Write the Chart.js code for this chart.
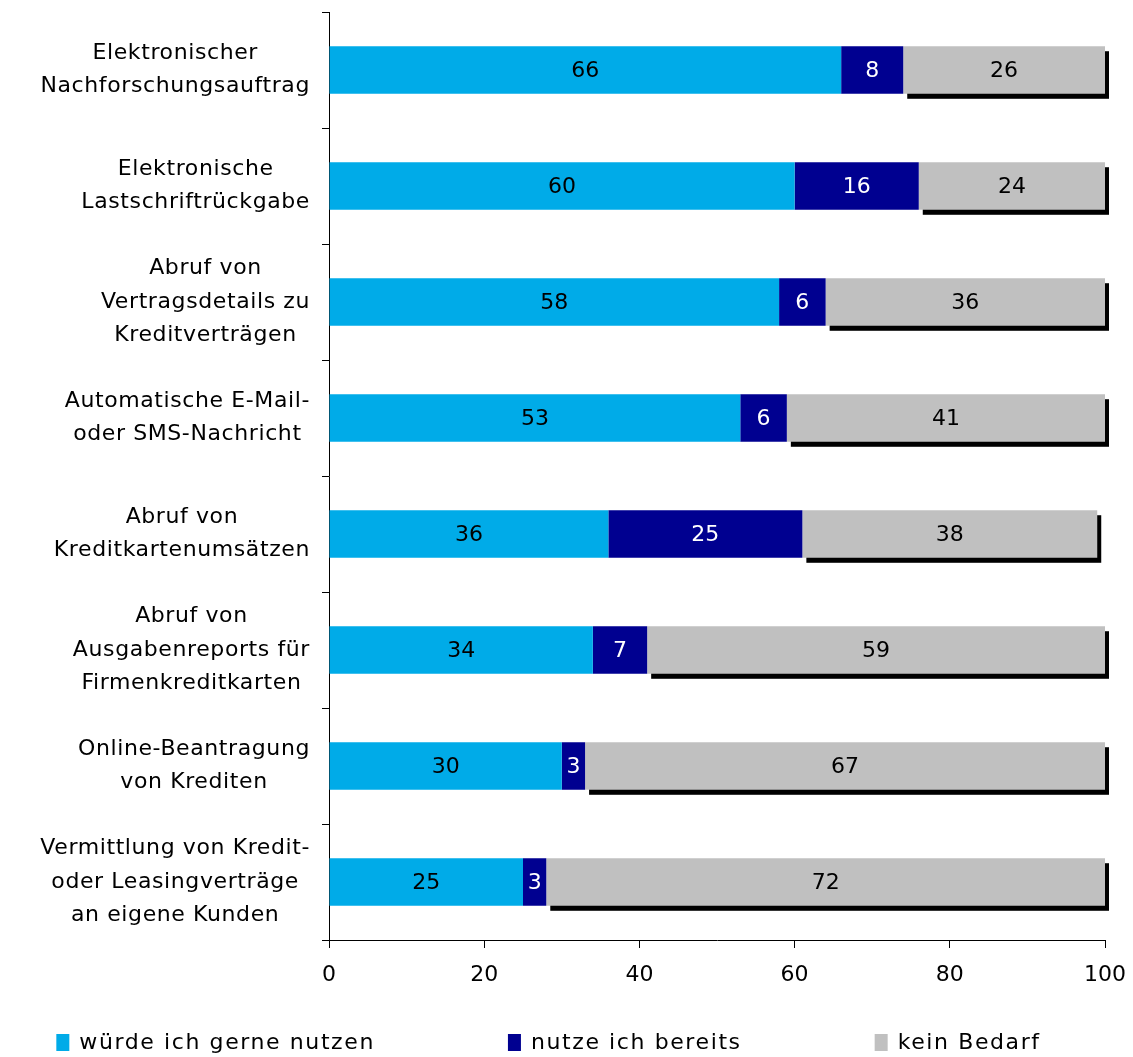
<!DOCTYPE html>
<html>
<head>
<meta charset="utf-8">
<script src="https://cdn.jsdelivr.net/npm/chart.js@4.4.1/dist/chart.umd.min.js"></script>
<style>
  html, body { margin: 0; padding: 0; background: #fff; }
  #wrap { width: 1133px; height: 1057px; }
</style>
</head>
<body>
<div id="wrap"><canvas id="chart"></canvas></div>
<script>
// categories (multi-line labels) and series values
const categories = [
    ['Elektronischer', 'Nachforschungsauftrag'],
    ['Elektronische', 'Lastschriftrückgabe'],
    ['Abruf von', 'Vertragsdetails zu', 'Kreditverträgen'],
    ['Automatische E-Mail-', 'oder SMS-Nachricht'],
    ['Abruf von', 'Kreditkartenumsätzen'],
    ['Abruf von', 'Ausgabenreports für', 'Firmenkreditkarten'],
    ['Online-Beantragung', 'von Krediten'],
    ['Vermittlung von Kredit-', 'oder Leasingverträge', 'an eigene Kunden']
];
const seriesNames = ['würde ich gerne nutzen', 'nutze ich bereits', 'kein Bedarf'];
const wuerdeNutzen = [66, 60, 58, 53, 36, 34, 30, 25];
const nutzeBereits = [8, 16, 6, 6, 25, 7, 3, 3];
const keinBedarf = [26, 24, 36, 41, 38, 59, 67, 72];
const xTicks = [0, 20, 40, 60, 80, 100];

const FONT = '"DejaVu Sans", Verdana, sans-serif';
const colors = ['#00ABE8', '#000090', '#C0C0C0'];
const labelColors = ['#000', '#fff', '#000'];

// black drop shadow behind the grey segments
const shadowPlugin = {
    id: 'shadow',
    beforeDatasetDraw(chart, args) {
        if (args.index !== 2) return;
        const ctx = chart.ctx;
        ctx.save();
        ctx.fillStyle = '#000';
        args.meta.data.forEach(bar => {
            const left = Math.min(bar.x, bar.base);
            const w = Math.abs(bar.x - bar.base);
            ctx.fillRect(left + 4, bar.y - bar.height / 2 + 5, w, bar.height);
        });
        ctx.restore();
    }
};

// numbers in the middle of each segment
const valueLabels = {
    id: 'valueLabels',
    afterDatasetsDraw(chart) {
        const ctx = chart.ctx;
        ctx.save();
        ctx.font = '22px ' + FONT;
        ctx.textAlign = 'center';
        ctx.textBaseline = 'middle';
        chart.data.datasets.forEach((ds, di) => {
            const meta = chart.getDatasetMeta(di);
            ctx.fillStyle = labelColors[di];
            meta.data.forEach((bar, i) => {
                ctx.fillText(String(ds.data[i]), (bar.x + bar.base) / 2, bar.y + 1);
            });
        });
        ctx.restore();
    }
};

// category labels: each block centred on its own widest line, right aligned to the axis
const categoryLabels = {
    id: 'categoryLabels',
    afterDraw(chart) {
        const ctx = chart.ctx;
        const scale = chart.scales.y;
        const lineH = 33.5;
        ctx.save();
        ctx.font = '22px ' + FONT;
        ctx.letterSpacing = '0.6px';
        ctx.fillStyle = '#000';
        ctx.textAlign = 'center';
        ctx.textBaseline = 'middle';
        categories.forEach((lines, i) => {
            const y = scale.getPixelForValue(i);
            const widest = Math.max(...lines.map(l => ctx.measureText(l).width));
            const cx = scale.right - 19 - widest / 2;
            const top = y - (lines.length - 1) * lineH / 2;
            lines.forEach((l, k) => ctx.fillText(l, cx, top + k * lineH));
        });
        ctx.restore();
    }
};

// legend along the bottom
const bottomLegend = {
    id: 'bottomLegend',
    afterDraw(chart) {
        const ctx = chart.ctx;
        const gap = 133;
        ctx.save();
        ctx.font = '22px ' + FONT;
        ctx.letterSpacing = '1.6px';
        ctx.textBaseline = 'middle';
        const widths = seriesNames.map(n => 23 + ctx.measureText(n).width);
        const total = widths.reduce((a, b) => a + b, 0) + gap * (widths.length - 1);
        let x = chart.width / 2 - 18 - total / 2;
        const y = chart.height - 14;
        seriesNames.forEach((n, i) => {
            ctx.fillStyle = colors[i];
            ctx.fillRect(x, y - 9, 13, 17);
            ctx.fillStyle = '#000';
            ctx.fillText(n, x + 23, y);
            x += widths[i] + gap;
        });
        ctx.restore();
    }
};

const chart = new Chart(document.getElementById('chart'), {
    type: 'bar',
    data: {
        labels: categories,
        datasets: [
            { label: seriesNames[0], data: wuerdeNutzen, backgroundColor: colors[0] },
            { label: seriesNames[1], data: nutzeBereits, backgroundColor: colors[1] },
            { label: seriesNames[2], data: keinBedarf, backgroundColor: colors[2] }
        ]
    },
    options: {
        indexAxis: 'y',
        responsive: true,
        maintainAspectRatio: false,
        animation: false,
        datasets: {
            bar: { categoryPercentage: 1, barPercentage: 0.41, borderWidth: 0 }
        },
        layout: { padding: { top: 12, right: 28, bottom: 57, left: 0 } },
        plugins: {
            legend: { display: false },
            tooltip: { enabled: false }
        },
        scales: {
            x: {
                stacked: true,
                min: 0,
                max: 100,
                afterBuildTicks: scale => { scale.ticks = xTicks.map(v => ({ value: v })); },
                afterFit: scale => {
                    scale.height = 60;
                    scale.paddingRight = 0;
                    scale.paddingLeft = 0;
                },
                border: { color: '#000', width: 1 },
                grid: { drawOnChartArea: false, drawTicks: true, tickLength: 8, color: '#000' },
                ticks: { color: '#000', padding: 14, maxRotation: 0, font: { family: FONT, size: 22 } }
            },
            y: {
                stacked: true,
                afterFit: scale => { scale.width = 329; },
                border: { color: '#000', width: 1 },
                grid: { drawOnChartArea: false, drawTicks: true, tickLength: 7, color: '#000', offset: true },
                ticks: { display: false }
            }
        }
    },
    plugins: [shadowPlugin, valueLabels, categoryLabels, bottomLegend]
});
</script>
</body>
</html>
